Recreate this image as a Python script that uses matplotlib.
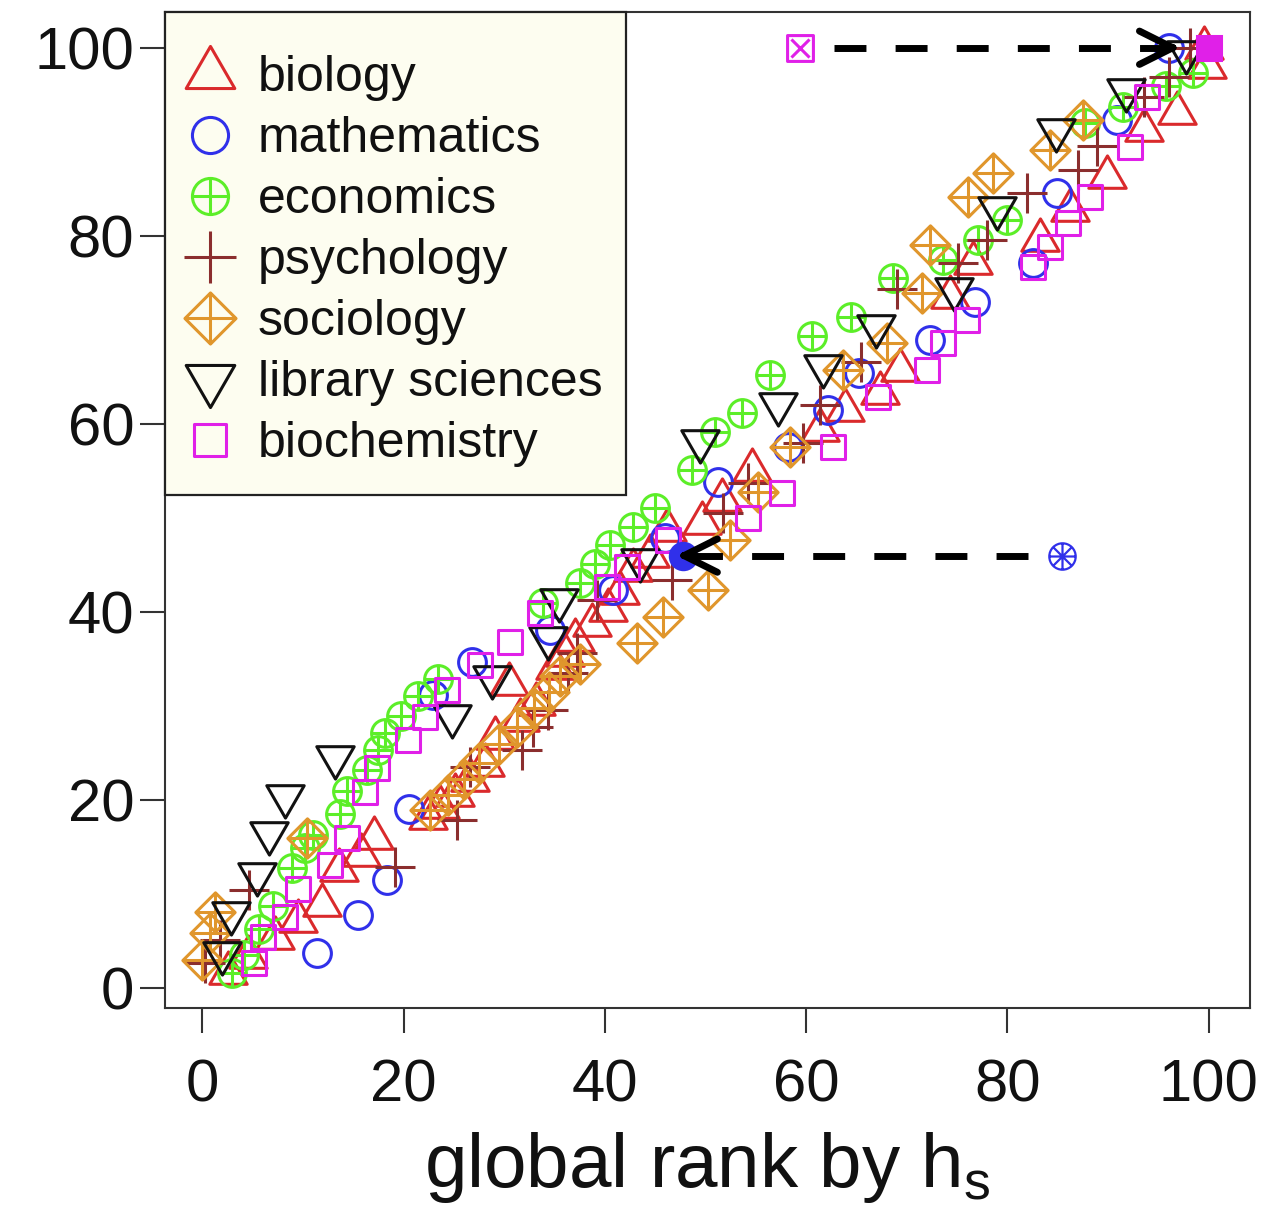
import matplotlib
matplotlib.use('Agg')
import matplotlib.pyplot as plt
from matplotlib.path import Path
from matplotlib.lines import Line2D
from matplotlib.patches import Rectangle

plt.rcParams['font.family'] = ['Liberation Sans', 'DejaVu Sans']
plt.rcParams['mathtext.fontset'] = 'custom'
plt.rcParams['mathtext.rm'] = 'Liberation Sans'
plt.rcParams['mathtext.it'] = 'Liberation Sans:italic'
plt.rcParams['mathtext.bf'] = 'Liberation Sans:bold'

# ---------------- data ----------------
categories = ['biology', 'mathematics', 'economics', 'psychology',
              'sociology', 'library sciences', 'biochemistry']

biology_x = [2.6, 4.5, 7.2, 9.5, 11.9, 13.6, 15.8, 17.1, 22.4, 23.6, 25.1, 26.6, 28.1, 29.1,
             30.5, 31.6, 33.2, 35.0, 36.0, 37.0, 38.7, 40.3, 41.5, 42.8, 44.5, 46.2, 49.7,
             51.6, 54.6, 61.4, 63.9, 67.3, 69.3, 74.3, 76.6, 83.2, 86.2, 89.9, 93.6, 96.8,
             99.8, 99.5]
biology_y = [1.6, 3.3, 5.3, 7.2, 8.9, 12.6, 14.2, 16.0, 18.1, 19.3, 20.5, 22.1, 23.7, 26.6,
             32.3, 28.5, 30.2, 34.0, 35.4, 37.0, 38.6, 40.2, 42.0, 44.5, 46.0, 48.7, 49.5,
             51.9, 55.1, 59.4, 61.5, 63.3, 65.7, 73.5, 77.1, 79.6, 82.8, 86.3, 91.3, 93.1,
             98.0, 100.0]

mathematics_x = [11.4, 15.5, 18.4, 20.5, 22.9, 26.8, 34.6, 40.8, 46.0, 51.2, 58.2, 62.2,
                 65.3, 72.3, 76.8, 82.5, 84.9, 90.9, 96.1]
mathematics_y = [3.8, 7.8, 11.5, 19.1, 31.2, 34.7, 38.1, 42.3, 47.9, 53.8, 57.6, 61.5,
                 65.4, 68.9, 73.0, 77.1, 84.6, 92.3, 100.0]

economics_x = [3.0, 4.1, 5.6, 7.0, 8.9, 10.2, 11.0, 13.7, 14.4, 16.4, 17.5, 18.2, 19.7, 21.4,
               23.4, 33.9, 37.5, 39.0, 40.5, 42.8, 45.0, 48.7, 50.9, 53.6, 56.4, 60.6, 64.5,
               68.6, 73.6, 77.1, 80.0, 87.7, 91.5, 95.8, 98.4]
economics_y = [1.6, 3.5, 6.3, 8.7, 12.8, 14.9, 16.3, 18.5, 21.0, 23.2, 25.3, 27.1, 28.9, 31.1,
               32.9, 41.0, 43.1, 45.1, 47.1, 49.0, 51.1, 55.1, 59.1, 61.2, 65.2, 69.3, 71.4,
               75.5, 77.4, 79.6, 81.7, 92.0, 93.7, 95.9, 97.3]

psychology_x = [0.3, 1.8, 4.6, 19.2, 25.3, 26.6, 31.8, 32.9, 34.4, 36.3, 37.2, 39.2, 46.7,
                51.7, 54.2, 59.7, 61.4, 65.5, 69.0, 75.1, 78.0, 81.9, 87.0, 88.9, 93.6, 96.1,
                98.1]
psychology_y = [2.7, 5.1, 10.4, 12.9, 17.9, 23.5, 25.3, 27.8, 29.6, 33.5, 35.6, 41.3, 43.4,
                50.5, 53.7, 58.0, 62.0, 66.6, 74.3, 77.1, 79.6, 84.6, 87.0, 89.5, 94.8, 96.9,
                100.0]

sociology_x = [0.0, 0.8, 1.3, 10.4, 22.6, 24.4, 26.0, 27.5, 29.5, 31.3, 33.0, 34.5, 35.5,
               37.5, 43.2, 45.8, 50.2, 52.4, 55.2, 58.4, 63.7, 68.0, 71.5, 72.3, 76.1, 78.6,
               84.2, 87.5]
sociology_y = [3.0, 5.9, 8.1, 16.0, 18.9, 20.5, 22.3, 24.0, 26.0, 27.8, 29.8, 31.5, 33.2,
               34.5, 36.7, 39.5, 42.3, 47.7, 52.8, 57.6, 65.7, 68.6, 73.9, 79.0, 84.1, 86.7,
               89.1, 92.3]

library_x = [2.0, 2.9, 5.4, 6.6, 8.2, 13.2, 24.8, 28.8, 34.4, 35.4, 43.5, 49.5, 57.2, 61.7,
             66.9, 74.7, 79.0, 84.8, 91.8, 97.7]
library_y = [3.7, 8.0, 12.2, 16.5, 20.4, 24.6, 28.9, 33.1, 37.2, 41.3, 45.5, 58.2, 62.1, 66.2,
             70.4, 74.3, 83.0, 91.3, 95.5, 99.6]

biochemistry_x = [5.1, 6.0, 8.2, 9.5, 12.7, 14.4, 16.2, 17.4, 20.4, 22.1, 24.3, 27.6, 30.6,
                  33.6, 40.2, 42.2, 46.3, 54.2, 57.6, 62.7, 67.1, 72.0, 73.6, 76.0, 82.5,
                  84.2, 86.0, 88.2, 92.2, 93.9]
biochemistry_y = [2.7, 5.4, 7.6, 10.6, 13.1, 16.0, 20.9, 23.4, 26.4, 28.8, 31.7, 34.4, 36.8,
                  39.9, 42.7, 44.8, 47.7, 50.0, 52.7, 57.6, 62.9, 65.7, 68.6, 71.1, 76.7,
                  78.8, 81.4, 84.1, 89.4, 94.8]

# highlighted journals (start -> end)
mag_start = (59.4, 100.0)
mag_end = (100.0, 100.0)
blue_start = (85.4, 46.0)
blue_end = (47.8, 46.0)

ticks = [0, 20, 40, 60, 80, 100]
tick_labels = ['0', '20', '40', '60', '80', '100']

# ---------------- marker shapes ----------------
M, L, C = Path.MOVETO, Path.LINETO, Path.CLOSEPOLY
circ = Path.unit_circle()
plus_p = Path([[-1, 0], [1, 0], [0, -1], [0, 1]], [M, L, M, L])
tri_up = Path([[0, 1.555], [1.347, -0.778], [-1.347, -0.778], [0, 1.555]], [M, L, L, C])
tri_dn = Path([[0, -1.555], [1.347, 0.778], [-1.347, 0.778], [0, -1.555]], [M, L, L, C])
diamond = Path([[0, 1], [1, 0], [0, -1], [-1, 0], [0, 1]], [M, L, L, L, C])
square = Path([[-1, -1], [1, -1], [1, 1], [-1, 1], [-1, -1]], [M, L, L, L, C])
diamond_plus = Path.make_compound_path(diamond, plus_p)
circ_plus = Path.make_compound_path(circ, plus_p)
square_x = Path.make_compound_path(
    square, Path([[-0.7, -0.7], [0.7, 0.7], [-0.7, 0.7], [0.7, -0.7]], [M, L, M, L]))
d = 0.7071
spokes = Path([[-1, 0], [1, 0], [0, -1], [0, 1], [-d, -d], [d, d], [-d, d], [d, -d]],
              [M, L, M, L, M, L, M, L])
circ_ast = Path.make_compound_path(circ, spokes)

D = 20.0  # circle diameter in points
styles = {
    'biology':          dict(color='#DA2A2C', marker=tri_up, ms=1.555 * D),
    'mathematics':      dict(color='#3030EA', marker=circ, ms=D),
    'economics':        dict(color='#5CEE28', marker=circ_plus, ms=D),
    'psychology':       dict(color='#8B2E2E', marker=plus_p, ms=1.414 * D),
    'sociology':        dict(color='#E0962C', marker=diamond_plus, ms=1.414 * D),
    'library sciences': dict(color='#111111', marker=tri_dn, ms=1.555 * D),
    'biochemistry':     dict(color='#E020E8', marker=square, ms=0.886 * D),
}
series = {
    'biology': (biology_x, biology_y),
    'mathematics': (mathematics_x, mathematics_y),
    'economics': (economics_x, economics_y),
    'psychology': (psychology_x, psychology_y),
    'sociology': (sociology_x, sociology_y),
    'library sciences': (library_x, library_y),
    'biochemistry': (biochemistry_x, biochemistry_y),
}
MEW = 2.2

# ---------------- figure ----------------
fig = plt.figure(figsize=(12.83, 12.08), dpi=100)
ax = fig.add_axes([165 / 1283, 1 - 1008 / 1208, (1250 - 165) / 1283, (1008 - 12) / 1208])

for i, name in enumerate(categories):
    xs, ys = series[name]
    st = styles[name]
    ax.plot(xs, ys, ls='none', marker=st['marker'], ms=st['ms'], mec=st['color'],
            mfc='none', mew=MEW, zorder=3 + i * 0.1)

# highlighted points
ax.plot([mag_start[0]], [mag_start[1]], ls='none', marker=square_x, ms=0.886 * D * 1.05,
        mec=styles['biochemistry']['color'], mfc='none', mew=MEW, zorder=5)
ax.plot([mag_end[0]], [mag_end[1]], ls='none', marker='s', ms=0.886 * D,
        mec=styles['biochemistry']['color'], mfc=styles['biochemistry']['color'], mew=MEW, zorder=5)
ax.plot([blue_start[0]], [blue_start[1]], ls='none', marker=circ_ast, ms=D * 0.95,
        mec=styles['mathematics']['color'], mfc='none', mew=1.6, zorder=5)
ax.plot([blue_end[0]], [blue_end[1]], ls='none', marker='o', ms=D * 0.95,
        mec=styles['mathematics']['color'], mfc=styles['mathematics']['color'], mew=MEW, zorder=5)

# dashed arrows
LW = 5.0
for (sx, sy), (ex, ey) in [(mag_start, mag_end), (blue_start, blue_end)]:
    direction = 1 if ex > sx else -1
    x0 = sx + direction * 3.4
    tip = ex - direction * (2.8 if direction > 0 else -0.7)
    ax.plot([x0, tip - direction * 1.0], [sy, ey], color='black', lw=LW,
            dashes=(4.6, 4.2), solid_capstyle='butt', dash_capstyle='butt', zorder=6)
    ax.annotate('', xy=(tip, ey), xytext=(tip - direction * 1.5, ey),
                arrowprops=dict(arrowstyle='->,head_length=1.6,head_width=0.8', lw=LW,
                                color='black', mutation_scale=15, shrinkA=0, shrinkB=0),
                zorder=6)

ax.set_xlim(-3.7, 104.1)
ax.set_ylim(-2.1, 103.8)
ax.set_xticks(ticks)
ax.set_xticklabels(tick_labels)
ax.set_yticks(ticks)
ax.set_yticklabels(tick_labels)
ax.tick_params(axis='both', direction='out', length=18, width=1.5, color='#333333',
               labelsize=43, labelcolor='#111111')
ax.tick_params(axis='x', pad=18)
ax.tick_params(axis='y', pad=4)
for sp in ax.spines.values():
    sp.set_linewidth(1.5)
    sp.set_color('#333333')

fig.text((165 + 1250) / 2 / 1283, 21 / 1208, 'global rank by h$_\\mathrm{s}$', ha='center',
         va='baseline', fontsize=55, color='#111111')

# legend: frame drawn as a rectangle anchored to the top-left corner of the axes
ax_w_px, ax_h_px = 1250 - 165, 1008 - 12
frame = Rectangle((0, 1 - (495 - 12) / ax_h_px), (626 - 165) / ax_w_px, (495 - 12) / ax_h_px,
                  transform=ax.transAxes, facecolor='#FDFDF0', edgecolor='#222222',
                  linewidth=1.6, zorder=9, clip_on=False)
ax.add_patch(frame)

handles = []
for name in categories:
    st = styles[name]
    handles.append(Line2D([], [], ls='none', marker=st['marker'], ms=st['ms'],
                          mec=st['color'], mfc='none', mew=MEW))
leg = ax.legend(handles, categories, loc='upper left', bbox_to_anchor=(0, 1 - 13 / ax_h_px),
                borderaxespad=0, fontsize=36, frameon=False, markerscale=1.3,
                handlelength=0.6, handletextpad=0.66, borderpad=0.6, labelspacing=0.3)
for t in leg.get_texts():
    t.set_color('#111111')
leg.set_zorder(10)

fig.savefig('out.png', dpi=100)
